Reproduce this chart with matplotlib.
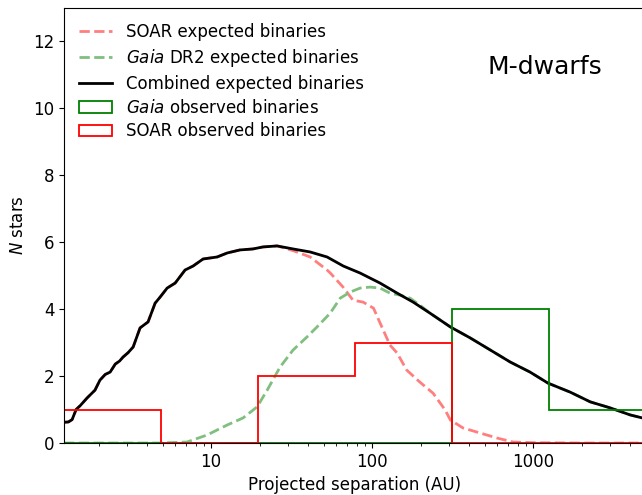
import numpy as np
import matplotlib.pyplot as plt
from matplotlib.ticker import FuncFormatter

# combined expected binaries (black)
comb_x = [1.22, 1.30, 1.37, 1.45, 1.54, 1.70, 1.90, 2.04, 2.20, 2.36, 2.54, 2.70, 2.84, 3.05, 3.28,
          3.62, 4.06, 4.49, 4.82, 5.33, 5.98, 6.89, 7.73, 8.92, 10.9, 12.6, 15.1, 18.2, 21.0,
          25.7, 32.3, 41.2, 52.5, 66.2, 84.2, 112, 143, 180, 229, 306, 407, 542, 721, 957,
          1237, 1701, 2264, 3012, 4006, 4765]
comb_y = [0.62, 0.63, 0.70, 1.00, 1.12, 1.35, 1.58, 1.88, 2.05, 2.12, 2.36, 2.45, 2.57, 2.70, 2.87,
          3.44, 3.62, 4.18, 4.36, 4.63, 4.78, 5.17, 5.29, 5.50, 5.56, 5.68, 5.77, 5.80, 5.86,
          5.89, 5.80, 5.71, 5.56, 5.29, 5.08, 4.78, 4.48, 4.21, 3.88, 3.47, 3.14, 2.78, 2.42,
          2.12, 1.79, 1.52, 1.23, 1.05, 0.84, 0.75]

# SOAR expected binaries (pink dashed)
soar_x = [1.22, 1.30, 1.37, 1.45, 1.54, 1.70, 1.90, 2.04, 2.20, 2.36, 2.54, 2.70, 2.84, 3.05, 3.28,
          3.62, 4.06, 4.49, 4.82, 5.33, 5.98, 6.89, 7.73, 8.92, 10.9, 12.6, 15.1, 18.2, 21.0,
          25.7, 32.3, 41.2, 52.5, 55.0, 66.0, 76.0, 88.0, 102, 112, 129, 143, 164, 198, 239,
          284, 306, 367, 468, 596, 750, 1000, 2000, 5000]
soar_y = [0.62, 0.63, 0.70, 1.00, 1.12, 1.35, 1.58, 1.88, 2.05, 2.12, 2.36, 2.45, 2.57, 2.70, 2.87,
          3.44, 3.62, 4.18, 4.36, 4.63, 4.78, 5.17, 5.29, 5.50, 5.56, 5.68, 5.77, 5.80, 5.86,
          5.89, 5.75, 5.56, 5.17, 5.08, 4.66, 4.27, 4.21, 4.03, 3.59, 2.93, 2.69, 2.18, 1.82, 1.49,
          0.99, 0.69, 0.45, 0.30, 0.15, 0.03, 0.01, 0.0, 0.0]

# Gaia DR2 expected binaries (green dashed)
gaia_x = [1.22, 3.0, 4.82, 7.09, 9.44, 12.6, 15.8, 19.3, 22.3, 26.8, 32.3, 39.4, 45.5, 54.9,
          63.4, 73.0, 84.2, 97.2, 112, 129, 149, 172, 198, 229, 306, 407, 542, 721, 957,
          1237, 1701, 2264, 3012, 4006, 4765]
gaia_y = [0.0, 0.0, 0.0, 0.03, 0.24, 0.54, 0.75, 1.08, 1.58, 2.27, 2.78, 3.17, 3.47, 3.88,
          4.33, 4.51, 4.63, 4.66, 4.63, 4.48, 4.42, 4.33, 4.12, 3.88, 3.47, 3.14, 2.78, 2.42,
          2.12, 1.79, 1.52, 1.23, 1.05, 0.84, 0.75]

# observed histograms
bin_edges = [1.22, 4.88, 19.5, 78, 312, 1250, 5000]
soar_counts = [1, 0, 2, 3, 0, 0]
gaia_counts = [0, 0, 0, 0, 4, 1]

fig = plt.figure(figsize=(6.42, 4.95), dpi=100)
ax = fig.add_axes([0.0997, 0.105, 0.906, 0.8788])

ax.plot(soar_x, soar_y, '--', color='#ff7f7f', lw=2, label='SOAR expected binaries')
ax.plot(gaia_x, gaia_y, '--', color='#7fbf7f', lw=2, label=r'$\it{Gaia}$ DR2 expected binaries')
ax.plot(comb_x, comb_y, '-', color='black', lw=2, label='Combined expected binaries')
ax.hist(bin_edges[:-1], bins=bin_edges, weights=gaia_counts, histtype='step',
        color='green', lw=1.3, label=r'$\it{Gaia}$ observed binaries')
ax.hist(bin_edges[:-1], bins=bin_edges, weights=soar_counts, histtype='step',
        color='red', lw=1.3, label='SOAR observed binaries')

ax.set_xscale('log')
ax.set_xlim(1.22, 5000)
ax.set_ylim(0, 13)
ax.xaxis.set_major_formatter(FuncFormatter(lambda v, p: '%g' % v))
ax.set_xlabel('Projected separation (AU)', fontsize=12)
ax.set_ylabel('$N$ stars', fontsize=12)
ax.tick_params(labelsize=12)
ax.text(0.827, 0.864, 'M-dwarfs', transform=ax.transAxes, fontsize=18, ha='center', va='center')
ax.legend(loc='upper left', fontsize=12, frameon=False, labelspacing=0.35)

fig.savefig('out.png', dpi=100)
